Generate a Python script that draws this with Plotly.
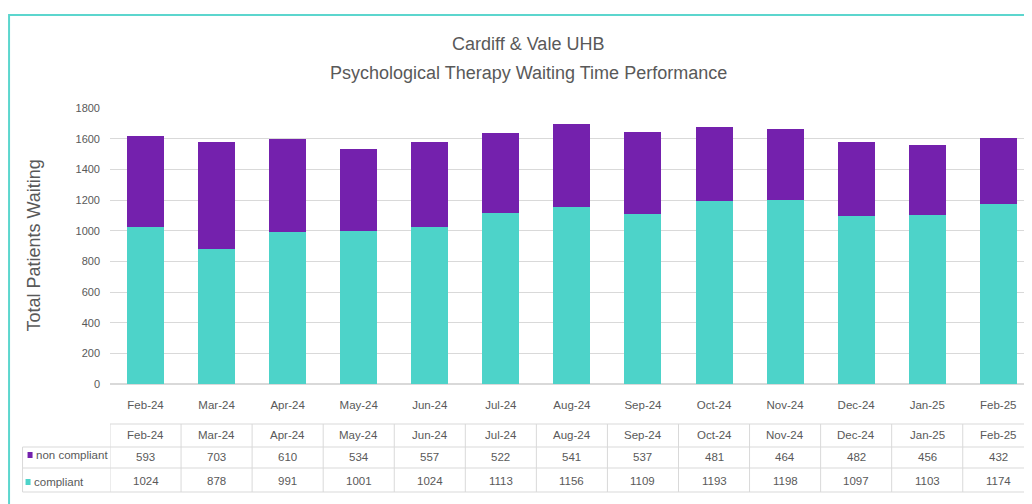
import plotly.graph_objects as go

months = ["Feb-24", "Mar-24", "Apr-24", "May-24", "Jun-24", "Jul-24", "Aug-24",
          "Sep-24", "Oct-24", "Nov-24", "Dec-24", "Jan-25", "Feb-25"]
non_compliant = [593, 703, 610, 534, 557, 522, 541, 537, 481, 464, 482, 456, 432]
compliant = [1024, 878, 991, 1001, 1024, 1113, 1156, 1109, 1193, 1198, 1097, 1103, 1174]
y_ticks = [0, 200, 400, 600, 800, 1000, 1200, 1400, 1600, 1800]

# page has an 8px body margin: figure is placed at (8, 8) in the window
OFF = 8
W, H = 1032 - OFF, 504 - OFF
# plot area in window pixel coordinates
PL, PR, PT, PB = 109.5, 1032, 108, 384
STEP = 71.1
PURPLE = "#7421AD"
TEAL = "#4DD3C9"
GRAY = "#595959"
GRID = "#D9D9D9"
FONT = "Liberation Sans, Arial, sans-serif"


def px_x(p):
    return (p - PL) / (PR - PL)


def px_y(p):
    return (PB - p) / (PB - PT)


idx = list(range(len(months)))

fig = go.Figure()
fig.add_trace(go.Bar(x=idx, y=compliant, name="compliant", marker_color=TEAL,
                     width=0.52, marker_line_width=0))
fig.add_trace(go.Bar(x=idx, y=non_compliant, name="non compliant", marker_color=PURPLE,
                     width=0.52, marker_line_width=0))

shapes = []
annotations = []


def note(x, y, text, font, xref="paper", xanchor="center", angle=0):
    annotations.append(dict(x=x, y=y, xref=xref, yref="paper", text=text, showarrow=False,
                            xanchor=xanchor, yanchor="middle", textangle=angle, font=font))


# outer frame
shapes.append(dict(type="rect", xref="paper", yref="paper",
                   x0=px_x(8.5), x1=px_x(1045), y0=px_y(520), y1=px_y(15),
                   line=dict(color="#5CD6CE", width=2), fillcolor="rgba(0,0,0,0)", layer="below"))

# data table
y_top, y_r1, y_r2, y_bot = 424, 447, 468, 492
row_line = dict(color=GRID, width=1)
shapes.append(dict(type="line", xref="paper", yref="paper", x0=px_x(PL), x1=px_x(1032),
                   y0=px_y(y_top), y1=px_y(y_top), line=row_line))
for yy in (y_r1, y_r2, y_bot):
    shapes.append(dict(type="line", xref="paper", yref="paper", x0=px_x(22), x1=px_x(1032),
                       y0=px_y(yy), y1=px_y(yy), line=row_line))
shapes.append(dict(type="line", xref="paper", yref="paper", x0=px_x(22), x1=px_x(22),
                   y0=px_y(y_r1), y1=px_y(y_bot), line=row_line))
for i in range(len(months) + 1):
    shapes.append(dict(type="line", xref="x", yref="paper", x0=i - 0.5, x1=i - 0.5,
                       y0=px_y(y_top), y1=px_y(y_bot), line=row_line))

cell_font = dict(family=FONT, size=11.5, color=GRAY)
for i, m in enumerate(months):
    note(i, px_y(435), m, cell_font, xref="x")
    note(i, px_y(457), str(non_compliant[i]), cell_font, xref="x")
    note(i, px_y(481), str(compliant[i]), cell_font, xref="x")

# legend keys in table
for yy, xk, col, label in ((455, 27, PURPLE, "non compliant"), (482, 25, TEAL, "compliant")):
    shapes.append(dict(type="rect", xref="paper", yref="paper",
                       x0=px_x(xk), x1=px_x(xk + 5), y0=px_y(yy + 3), y1=px_y(yy - 3),
                       fillcolor=col, line=dict(width=0)))
    note(px_x(xk + 6), px_y(yy), label, cell_font, xanchor="left")

# title
title_font = dict(family=FONT, size=18, color=GRAY)
note(px_x(528), px_y(44), "Cardiff & Vale UHB", title_font)
note(px_x(528), px_y(73), "Psychological Therapy Waiting Time Performance", title_font)
# y-axis title
note(px_x(33), px_y(246), "Total Patients Waiting", dict(family=FONT, size=18, color=GRAY),
     angle=-90)

fig.update_layout(
    width=W, height=H,
    barmode="stack",
    showlegend=False,
    plot_bgcolor="white",
    paper_bgcolor="white",
    margin=dict(l=PL - OFF, r=1032 - PR, t=PT - OFF, b=504 - PB, autoexpand=False),
    shapes=shapes,
    annotations=annotations,
    xaxis=dict(range=[-0.5, (PR - PL) / STEP - 0.5], tickmode="array", tickvals=idx,
               ticktext=months, showgrid=False, zeroline=False, showline=False, ticks="",
               tickfont=dict(family=FONT, size=11.5, color=GRAY), ticklabelstandoff=12),
    yaxis=dict(range=[0, 1800], tickvals=y_ticks, showgrid=True, gridcolor=GRID, gridwidth=1,
               zeroline=True, zerolinecolor=GRID, showline=False, ticks="",
               tickfont=dict(family=FONT, size=11, color=GRAY), ticklabelstandoff=9),
)

fig.write_html("out.html")
